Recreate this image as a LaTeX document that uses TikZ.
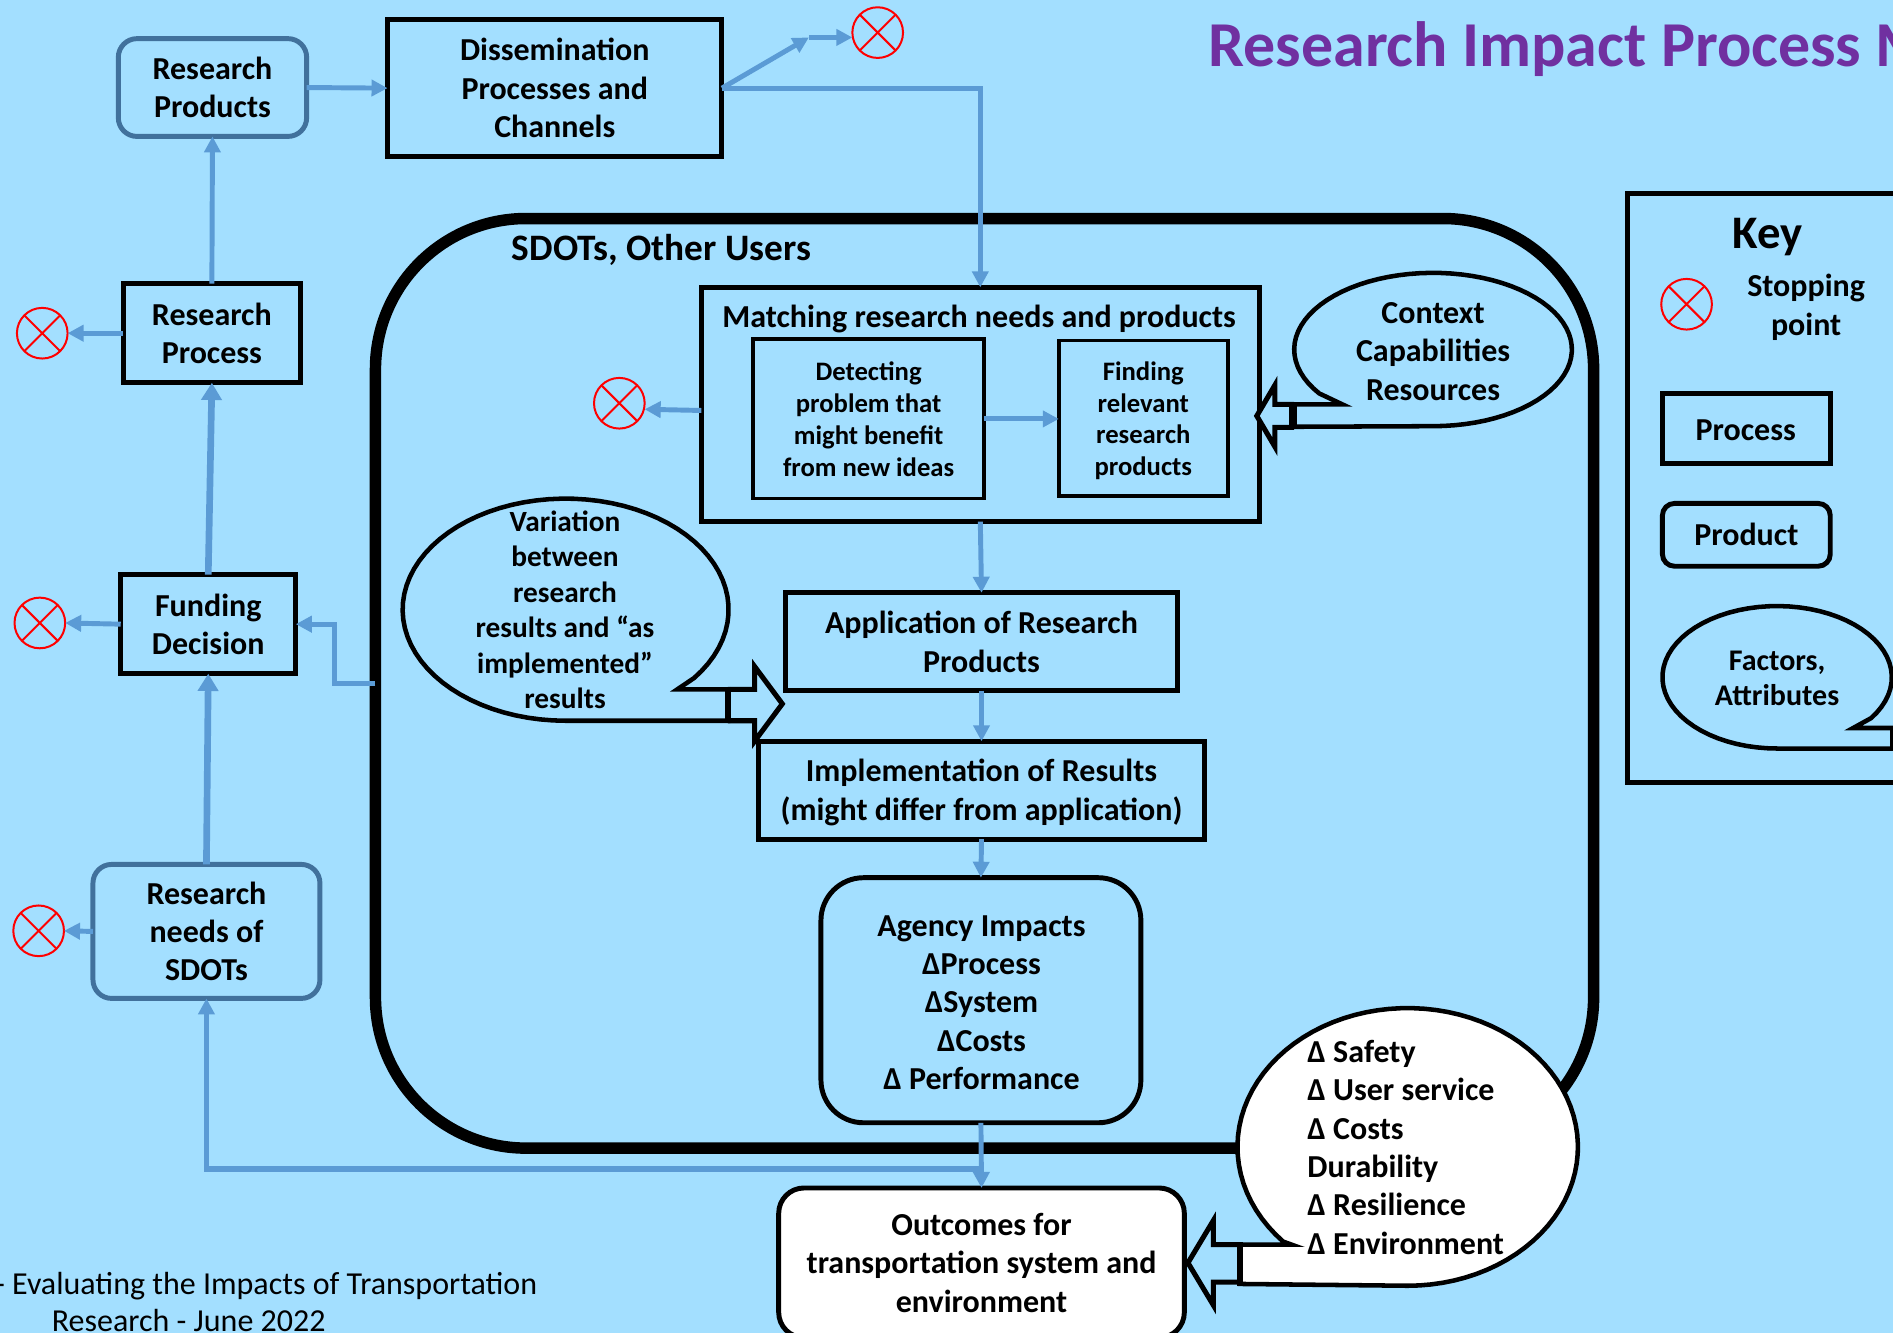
\documentclass[tikz,border=0pt]{standalone}
\usepackage{fontspec}
\setmainfont{Carlito}
\usetikzlibrary{arrows.meta}
\definecolor{bgblue}{HTML}{A3DFFF}
\definecolor{conn}{HTML}{5B9BD5}
\definecolor{steel}{HTML}{41719C}
\definecolor{titlepurple}{HTML}{7030A0}
\newcommand{\fs}[2]{\fontsize{#1}{#2}\selectfont\bfseries}
\newcommand{\bx}[7]{%
  \pgfmathsetmacro\bxcx{(#3+#5)/2}%
  \pgfmathsetmacro\bxcy{(#4+#6)/2}%
  \pgfmathsetmacro\bxw{(#5-#3)*0.9055}%
  \pgfmathsetmacro\bxh{(#6-#4)*0.9055}%
  \node[#1,minimum width=\bxw pt,minimum height=\bxh pt] (#2) at (\bxcx,\bxcy) {#7};}
\tikzset{
  x=0.9055pt,y=-0.9055pt,
  lbl/.style={inner sep=0pt,outer sep=0pt,align=center,font=\fs{24}{28.8}},
  proc/.style={lbl,draw=black,line width=3.7pt},
  thinproc/.style={proc,line width=2.8pt,font=\fs{20}{24}},
  prod/.style={lbl,draw=steel,line width=3.7pt,rounded corners=14pt},
  blackprod/.style={lbl,draw=black,line width=3.7pt,rounded corners=32pt},
  link/.style={draw=conn,line width=3.7pt,-{Triangle[length=12pt,width=12pt]}},
  heavylink/.style={link,line width=5pt,-{Triangle[length=13pt,width=15pt]}},
  stopsign/.style={circle,draw=red,line width=1.5pt,minimum size=38pt,inner sep=0pt,outer sep=0pt,
    path picture={\draw[red,line width=1.5pt]
      (path picture bounding box.center)+(-14.5,-14.5) -- +(14.5,14.5)
      (path picture bounding box.center)+(-14.5,14.5) -- +(14.5,-14.5);}},
  callout/.style={draw=black,line width=3.4pt,line join=miter},
  blockarrow/.style={draw=black,line width=3.8pt,fill=bgblue,line join=miter},
}
\begin{document}
\begin{tikzpicture}
\useasboundingbox (0,0) rectangle (1568,1104);
\clip (0,0) rectangle (1568,1104);
\fill[bgblue] (0,0) rectangle (1568,1104);

% large user frame
\bx{lbl,draw=black,line width=8.6pt,rounded corners=113pt}{big}{311}{181}{1320}{951}{}

% title and footer
\node[lbl,anchor=west,text=titlepurple,font=\fs{48}{54}] (title) at (1001,41) {Research Impact Process M};
\node[lbl,anchor=east,font=\fontsize{24}{28}\selectfont] (foota) at (445,1065) {- Evaluating the Impacts of Transportation};
\node[lbl,anchor=west,font=\fontsize{24}{28}\selectfont] (footb) at (43,1094) {Research - June 2022};
\node[lbl,anchor=west,font=\fs{28}{32}] (users) at (424,207) {SDOTs, Other Users};

% left column
\bx{prod}{rpr}{98}{32}{254}{113}{Research\\Products}
\bx{proc}{dis}{321}{16}{598}{130}{Dissemination\\Processes and\\Channels}
\bx{proc}{rproc}{102}{235}{249}{317}{Research\\Process}
\bx{proc}{fund}{100}{476}{245}{558}{Funding\\Decision}
\bx{prod}{needs}{77}{716}{265}{827}{Research\\needs of\\SDOTs}

% stopping points
\node[stopsign] (s1) at (727,27) {};
\node[stopsign] (s2) at (35,276) {};
\node[stopsign] (s3) at (33,516) {};
\node[stopsign] (s4) at (32,771) {};
\node[stopsign] (s5) at (513,334) {};
\node[stopsign] (s6) at (1397,252) {};

% centre column
\bx{proc}{match}{581}{238}{1043}{432}{}
\node[lbl] (matcht) at (811,264) {Matching research needs and products};
\bx{thinproc}{detect}{624}{281}{815}{413}{Detecting\\problem that\\might benefit\\from new ideas}
\bx{thinproc}{findp}{877}{282}{1017}{411}{}
\node[lbl,font=\fs{20}{24}] (findt) at (947,348.5) {Finding\\relevant\\research\\products};
\bx{proc}{appl}{651}{491}{975}{572}{Application of Research\\Products}
\bx{proc}{impl}{628}{614}{998}{695}{}
\node[lbl] (implt) at (813,656.5) {Implementation of Results\\(might differ from application)};
\bx{blackprod}{agency}{680}{727}{945}{930}{}
\node[lbl] (agt) at (813,830.5) {Agency Impacts\\ΔProcess\\ΔSystem\\ΔCosts\\Δ Performance};
\bx{lbl,draw=black,line width=3.7pt,rounded corners=19pt,fill=white}{outc}{645}{984}{981}{1108}{Outcomes for\\transportation system and\\environment}

% connectors
\coordinate (kink) at (670,31);
\coordinate (join) at (813,968);
\coordinate (bigout) at (277,566);
\draw[link] (rpr.east) -- (dis.west);
\draw[link] (dis.east) -- (kink);
\draw[link] (kink) -- (s1.west |- kink);
\draw[link] (dis.east) -| (match.north);
\draw[link] (rproc.north) -- (rpr.south);
\draw[link] (rproc.west) -- (s2.east);
\draw[heavylink] (fund.north) -- (rproc.south);
\draw[link] (fund.west) -- (s3.east);
\draw[heavylink] (needs.north) -- (fund.south);
\draw[link] (needs.west) -- (s4.east);
\draw[link] (big.west) -- (bigout) |- (fund.east);
\draw[link] (match.south) -- (appl.north);
\draw[link] (appl.south) -- (impl.north);
\draw[link] (impl.south) -- (agency.north);
\draw[link] (detect.east |- 0,347) -- (findp.west |- 0,347);
\draw[link] (match.west |- 0,340) -- (s5.east |- 0,339);
\draw[link] (agency.south) -- (outc.north);
\draw[link,line width=4.3pt] (join) -| (needs.south);

% context callout
\draw[blockarrow] (1072,335) -- (1056,335) -- (1056,319) -- (1041,344.5) -- (1056,370) -- (1056,354) -- (1072,354);
\draw[callout,fill=bgblue] (1072,353.5) -- plot[domain=90:-215,samples=70] ({1187+115*cos(\x)},{289.5+63.5*sin(\x)}) -- (1112,335) -- (1071,335) -- cycle;
\draw[line width=6pt] (1071,333) -- (1071,355);
\node[lbl] (ctx) at (1187,291) {Context\\Capabilities\\Resources};

% variation callout
\draw[blockarrow] (603,571) -- (625,571) -- (625,552) -- (648,583) -- (625,614) -- (625,597) -- (603,597);
\draw[callout,fill=bgblue] (603,597) -- plot[domain=90:398,samples=70] ({468.5+135*cos(\x)},{505+92*sin(\x)}) -- (561,571) -- (603,571) -- cycle;
\draw[line width=4.6pt] (603,569) -- (603,599);
\node[lbl,font=\fs{22}{26.6}] (varn) at (468,505) {Variation\\between\\research\\results and “as\\implemented”\\results};

% outcomes callout
\draw[blockarrow] (1027,1031) -- (1005,1031) -- (1005,1011) -- (984,1046) -- (1005,1081) -- (1005,1062) -- (1027,1062);
\draw[callout,fill=white] (1027,1063.5) -- plot[domain=90:-223,samples=80] ({1166+141*cos(\x)},{950+115*sin(\x)}) -- (1070,1031) -- (1027,1031) -- cycle;
\draw[line width=4.6pt] (1027,1029) -- (1027,1065.5);
\node[lbl,align=left,anchor=west] (delta) at (1083,950.3) {Δ Safety\\Δ User service\\Δ Costs\\Durability\\Δ Resilience\\Δ Environment};

% key
\bx{lbl,draw=black,line width=3.6pt}{keybox}{1348}{160}{1640}{648}{}
\node[lbl,font=\fs{35}{40}] (keyt) at (1464,196) {Key};
\node[lbl] (stopt) at (1496,254.5) {Stopping\\point};
\bx{proc}{kproc}{1377}{326}{1516}{384}{}
\node[lbl] (kproct) at (1446,356.5) {Process};
\bx{lbl,draw=black,line width=3.7pt,rounded corners=9pt}{kprod}{1377}{417}{1516}{469}{Product}
\draw[callout] (1575,620) -- plot[domain=90:395,samples=60] ({1472+95*cos(\x)},{561+59*sin(\x)}) -- (1535,603) -- (1575,603);
\draw[line width=2.8pt] (1567,603) -- (1567,620);
\node[lbl,font=\fs{22.5}{26.6}] (kfac) at (1472,562) {Factors,\\Attributes};
\end{tikzpicture}
\end{document}
